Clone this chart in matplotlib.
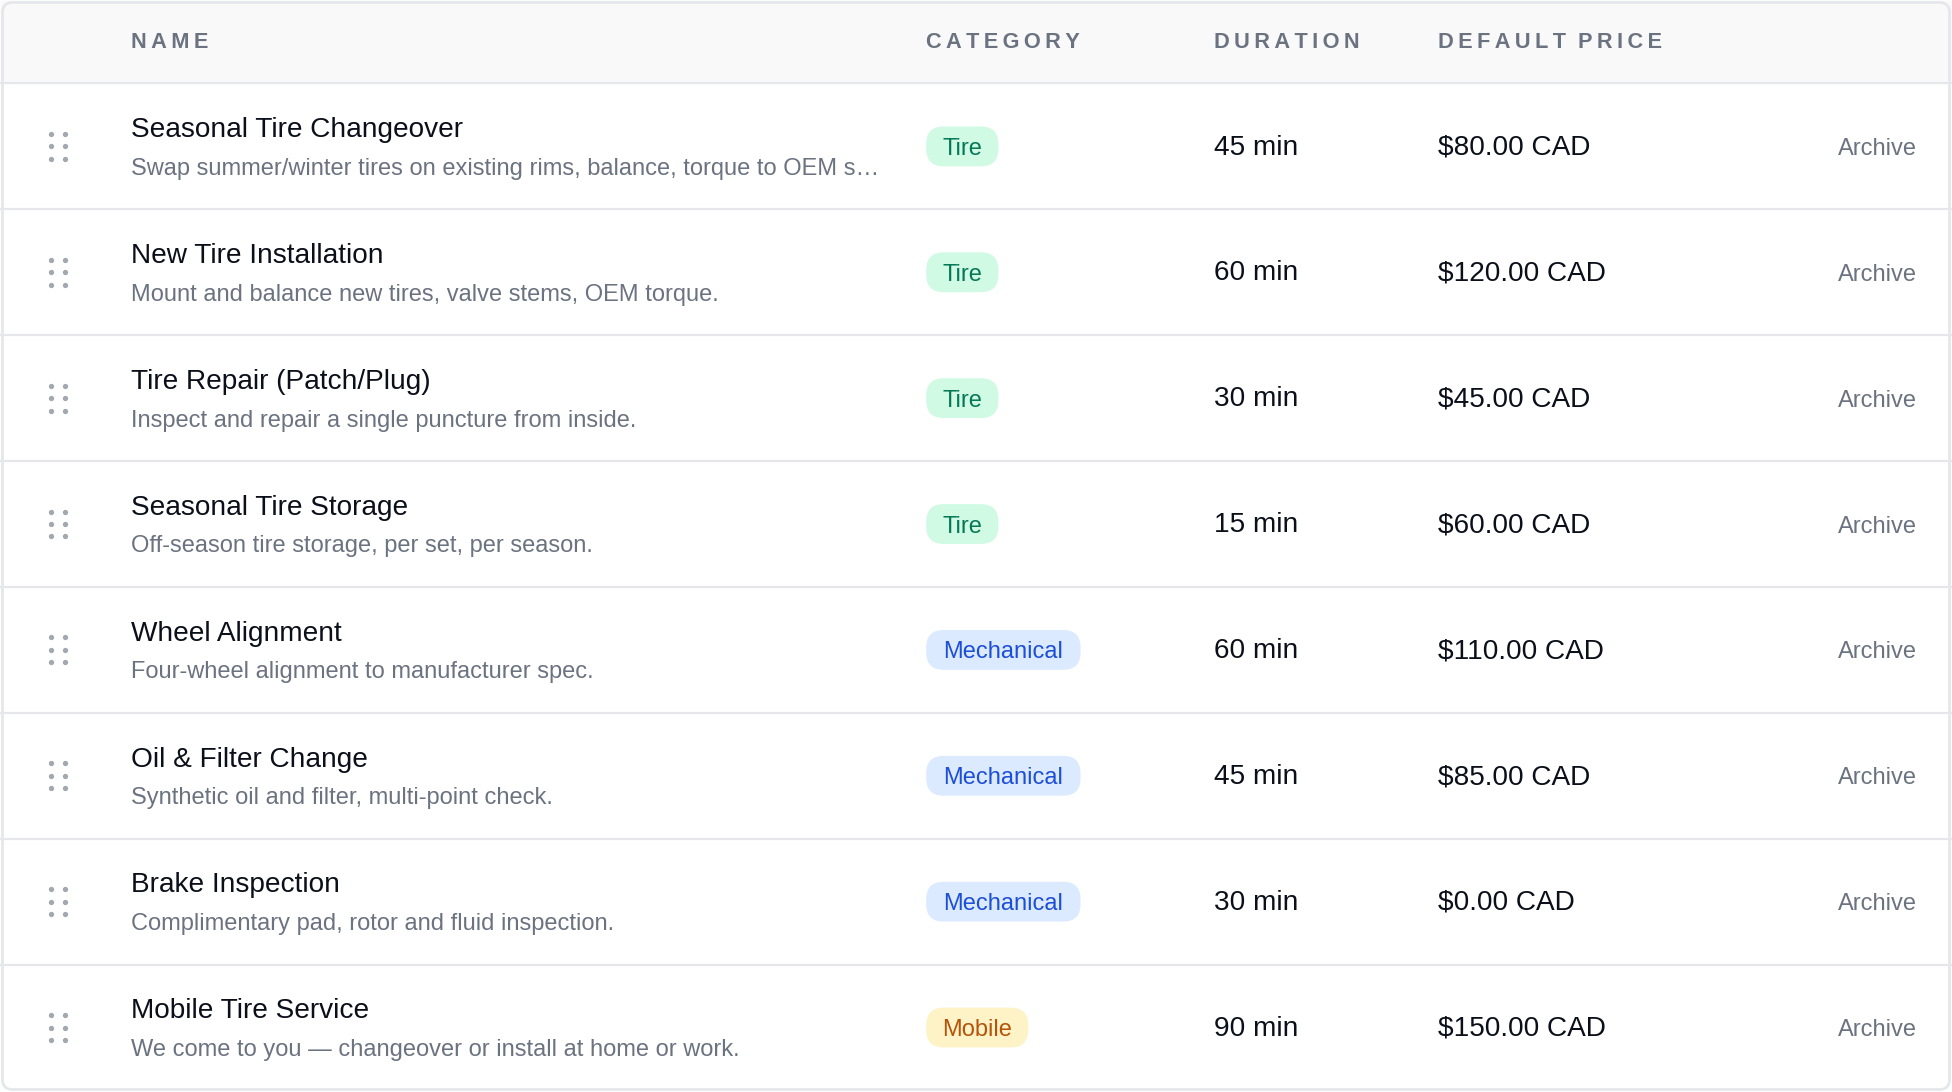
import matplotlib.pyplot as plt
from matplotlib.patches import FancyBboxPatch, Rectangle

names = ["Seasonal Tire Changeover", "New Tire Installation", "Tire Repair (Patch/Plug)",
         "Seasonal Tire Storage", "Wheel Alignment", "Oil & Filter Change",
         "Brake Inspection", "Mobile Tire Service"]
descs = ["Swap summer/winter tires on existing rims, balance, torque to OEM s\u2026",
         "Mount and balance new tires, valve stems, OEM torque.",
         "Inspect and repair a single puncture from inside.",
         "Off-season tire storage, per set, per season.",
         "Four-wheel alignment to manufacturer spec.",
         "Synthetic oil and filter, multi-point check.",
         "Complimentary pad, rotor and fluid inspection.",
         "We come to you \u2014 changeover or install at home or work."]
categories = ["Tire", "Tire", "Tire", "Tire", "Mechanical", "Mechanical", "Mechanical", "Mobile"]
durations = [45, 60, 30, 15, 60, 45, 30, 90]
prices = [80.00, 120.00, 45.00, 60.00, 110.00, 85.00, 0.00, 150.00]
headers = ["NAME", "CATEGORY", "DURATION", "DEFAULT PRICE"]

pill_styles = {"Tire": ("#d1fae5", "#047857"),
               "Mechanical": ("#dbeafe", "#1d4ed8"),
               "Mobile": ("#fef3c7", "#b45309")}
pill_width = {"Tire": 58, "Mechanical": 124, "Mobile": 82}

W, H = 1568, 877
S = 1952 / W


def fs(px):
    return px * S * 0.72


plt.rcParams['font.family'] = ['Liberation Sans', 'DejaVu Sans']
fig = plt.figure(figsize=(19.52, 10.92), dpi=100)
ax = fig.add_axes([0, 0, 1, 1])
ax.set_xlim(0, W)
ax.set_ylim(H, 0)
ax.axis('off')

# header band
ax.add_patch(Rectangle((1, 1), W - 2, 66, color="#f9f9f9", zorder=0))
ax.plot([1, W - 1], [67, 67], color="#e5e7eb", lw=1.5)
for h, x in zip(headers, [105, 744, 975, 1155]):
    # spaced-out caps like the original
    ax.text(x, 34, "\u2009".join(h).replace("\u2009 \u2009", "  "), fontsize=fs(17.5),
            fontweight='bold', color="#6b7280", va='center', ha='left',
            family=['DejaVu Sans'] if False else ['Liberation Sans', 'DejaVu Sans'])

row_h = 101.1
for i in range(len(names)):
    top = 67 + row_h * i
    c = top + row_h / 2
    if i > 0:
        ax.plot([1, W - 1], [top, top], color="#e5e7eb", lw=1.5)
    for dx in (41, 52):
        for dy in (-10, 0, 10):
            ax.plot(dx, c + dy, 'o', color="#a3a8b0", ms=2.8)
    ax.text(105, c - 13, names[i], fontsize=fs(22.5), color="#0b0f19", va='center')
    ax.text(105, c + 18, descs[i], fontsize=fs(19), color="#6b7280", va='center')
    bg, fg = pill_styles[categories[i]]
    w = pill_width[categories[i]]
    ax.add_patch(FancyBboxPatch((744 + 14, c - 16 + 14), w - 28, 32 - 28,
                                boxstyle="round,pad=14", fc=bg, ec='none'))
    ax.text(744 + w / 2, c + 2, categories[i], fontsize=fs(19), color=fg,
            va='center', ha='center')
    ax.text(975, c + 1, f"{durations[i]} min", fontsize=fs(22.5), color="#0b0f19", va='center')
    ax.text(1155, c + 1, f"${prices[i]:.2f} CAD", fontsize=fs(22.5), color="#0b0f19", va='center')
    ax.text(1540, c + 2, "Archive", fontsize=fs(19), color="#6b7280", va='center', ha='right')

ax.add_patch(FancyBboxPatch((2, 2), W - 4, H - 4, boxstyle="round,pad=0,rounding_size=8",
                            fc='none', ec="#e5e7eb", lw=2))

fig.savefig("out.png", dpi=100, facecolor='white')
